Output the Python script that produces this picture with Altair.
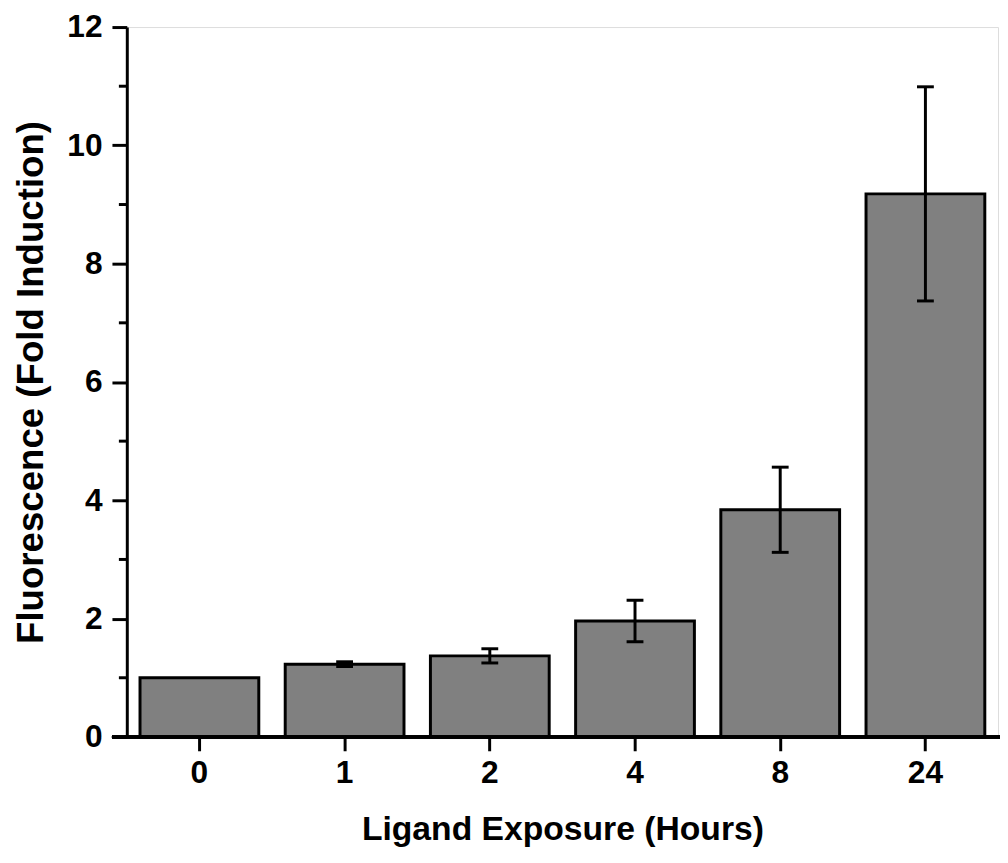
import altair as alt
import pandas as pd

hours = ["0", "1", "2", "4", "8", "24"]
means = [1.00, 1.23, 1.37, 1.96, 3.84, 9.18]
errors = [0.00, 0.04, 0.12, 0.35, 0.72, 1.81]
major_ticks = [0, 2, 4, 6, 8, 10, 12]
minor_ticks = [1, 3, 5, 7, 9, 11]

df = pd.DataFrame({"hours": hours, "mean": means, "err": errors})
df["lo"] = df["mean"] - df["err"]
df["hi"] = df["mean"] + df["err"]
eb = df[df["err"] > 0].copy()
caps = pd.concat([
    pd.DataFrame({"hours": eb["hours"], "v": eb["lo"]}),
    pd.DataFrame({"hours": eb["hours"], "v": eb["hi"]}),
])
minor_df = pd.DataFrame({"m": minor_ticks})

W, H = 880, 717
FONT = "Liberation Sans"

xscale = alt.Scale(domain=hours, paddingInner=0.182, paddingOuter=0.091)
yscale = alt.Scale(domain=[0, 12], nice=False)

x_axis = alt.Axis(
    title="Ligand Exposure (Hours)", labelAngle=0, domain=False,
    ticks=True, tickSize=14, tickWidth=3, tickColor="black",
    labelFont=FONT, labelFontSize=32, labelFontWeight="bold", labelColor="black",
    labelPadding=7,
    titleFont=FONT, titleFontSize=34, titleFontWeight="bold", titleColor="black",
    titlePadding=25,
)
y_axis = alt.Axis(
    title="Fluorescence (Fold Induction)", values=major_ticks, format="d", grid=False,
    domain=True, domainWidth=3, domainColor="black",
    tickSize=15, tickWidth=3, tickColor="black",
    labelFont=FONT, labelFontSize=32, labelFontWeight="bold", labelColor="black",
    labelPadding=10,
    titleFont=FONT, titleFontSize=37, titleFontWeight="bold", titleColor="black",
    titlePadding=17,
)

base = alt.Chart(df)

bars = base.mark_bar(fill="#808080", stroke="black", strokeWidth=3).encode(
    x=alt.X("hours:N", scale=xscale, axis=x_axis, sort=hours),
    y=alt.Y("mean:Q", scale=yscale, axis=y_axis),
)

rules = alt.Chart(eb).mark_rule(color="black", strokeWidth=3).encode(
    x=alt.X("hours:N", scale=xscale, sort=hours),
    y=alt.Y("lo:Q", scale=yscale),
    y2="hi:Q",
)

cap_marks = alt.Chart(caps).mark_tick(color="black", size=17, thickness=3, opacity=1).encode(
    x=alt.X("hours:N", scale=xscale, sort=hours),
    y=alt.Y("v:Q", scale=yscale),
)

minor = alt.Chart(minor_df).mark_rule(color="black", strokeWidth=3).encode(
    y=alt.Y("m:Q", scale=yscale),
    x=alt.value(-8),
    x2=alt.value(0),
)

baseline = alt.Chart(minor_df).mark_rule(color="black", strokeWidth=3).encode(
    y=alt.Y(datum=0, scale=yscale),
    x=alt.value(-15),
    x2=alt.value(W + 2),
)

chart = alt.layer(bars, rules, cap_marks, minor, baseline).properties(
    width=W, height=H,
    autosize=alt.AutoSizeParams(type="none"),
    padding={"left": 120, "top": 15, "right": 2, "bottom": 112},
).configure_view(stroke=None).configure(background="white")

chart.save("out.html", embed_options={"renderer": "svg", "actions": False})
